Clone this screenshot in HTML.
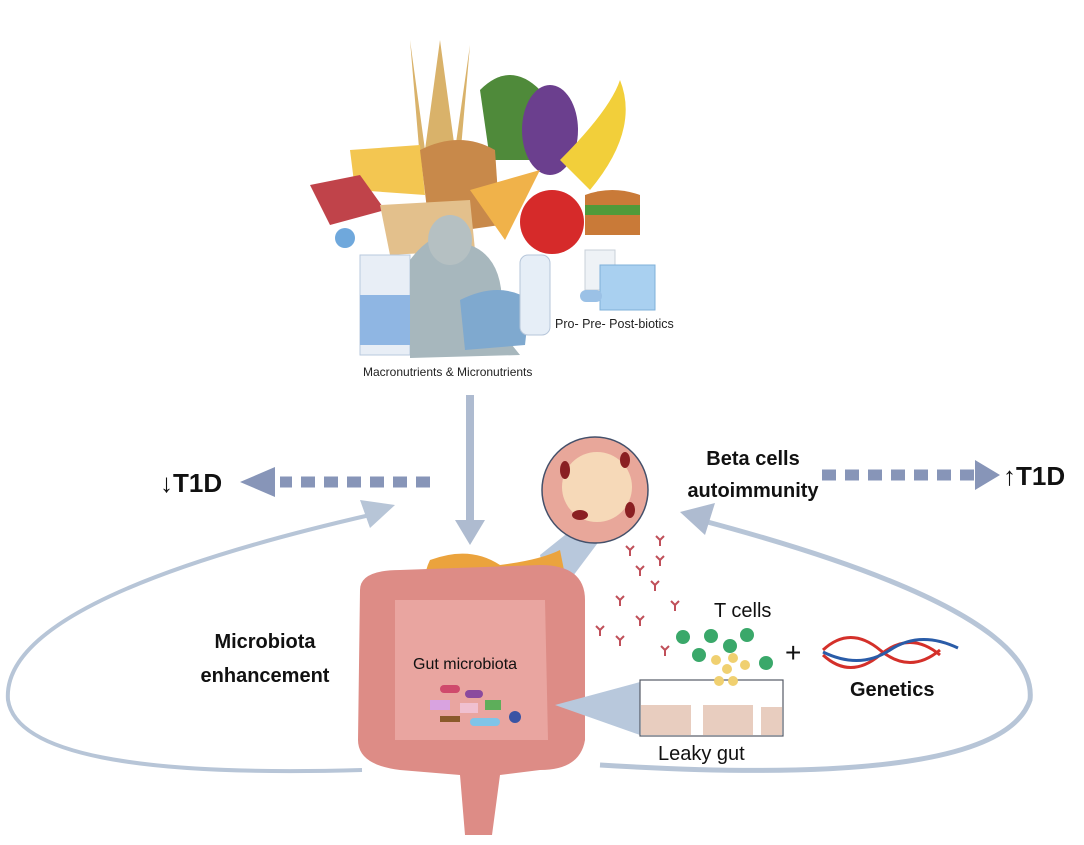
<!DOCTYPE html>
<html><head><meta charset="utf-8"><style>
body{margin:0;background:#fff;}
svg{display:block;}
text{font-family:"Liberation Sans",sans-serif;}
</style></head><body>
<svg width="1084" height="845" viewBox="0 0 1084 845" xmlns="http://www.w3.org/2000/svg">
<rect width="1084" height="845" fill="#fff"/>
<!-- food cluster -->
<g>
<path d="M410 40 L425 150 L440 40 L455 150 L470 45 L460 160 L420 160Z" fill="#d9b26a"/>
<path d="M480 90 Q510 60 540 90 L530 160 L490 160Z" fill="#4f8a3a"/>
<ellipse cx="550" cy="130" rx="28" ry="45" fill="#6b3f8e"/>
<path d="M560 160 Q610 110 620 80 Q640 130 590 190Z" fill="#f2cf3a"/>
<path d="M350 150 L420 145 L425 195 L355 190Z" fill="#f3c651"/>
<path d="M310 185 L360 175 L385 210 L330 225Z" fill="#c0434a"/>
<path d="M420 150 Q460 130 495 150 L500 225 L430 235Z" fill="#c8894a"/>
<path d="M380 205 L470 200 L475 250 L390 255Z" fill="#e3c08c"/>
<path d="M470 190 L540 170 L505 240Z" fill="#f0b24a"/>
<circle cx="552" cy="222" r="32" fill="#d62a2a"/>
<path d="M585 195 Q612 185 640 195 L640 235 L585 235Z" fill="#c97a38"/>
<rect x="585" y="205" width="55" height="10" fill="#4f9a3a"/>
<circle cx="345" cy="238" r="10" fill="#6fa8dc"/>
<rect x="360" y="255" width="50" height="100" fill="#e8eef6" stroke="#b9c9de"/>
<rect x="360" y="295" width="50" height="50" fill="#8fb6e3"/>
<path d="M410 260 Q440 220 470 245 Q510 260 500 330 L520 355 L410 358Z" fill="#a7b7bd"/>
<ellipse cx="450" cy="240" rx="22" ry="25" fill="#b5c0c2"/>
<path d="M460 300 Q500 280 530 300 L525 345 L465 350Z" fill="#7fa9cf"/>
<rect x="520" y="255" width="30" height="80" rx="8" fill="#e6eef7" stroke="#b6c6da"/>
<rect x="585" y="250" width="30" height="40" fill="#eef2f6" stroke="#c8d0d8"/>
<rect x="600" y="265" width="55" height="45" fill="#a9d0f0" stroke="#7fb0d9"/>
<rect x="580" y="290" width="22" height="12" rx="6" fill="#9bc1e6"/>
</g>
<text x="555" y="328" font-size="12.5" fill="#222">Pro- Pre- Post-biotics</text>
<text x="363" y="376" font-size="12" fill="#222">Macronutrients &amp; Micronutrients</text>
<!-- vertical arrow -->
<line x1="470" y1="395" x2="470" y2="522" stroke="#aebbd0" stroke-width="8"/>
<path d="M455 520 L485 520 L470 545Z" fill="#aebbd0"/>
<!-- left dashed -->
<line x1="430" y1="482" x2="280" y2="482" stroke="#8795b8" stroke-width="11" stroke-dasharray="14 9"/>
<path d="M275 467 L275 497 L240 482Z" fill="#8795b8"/>
<text x="160" y="492" font-size="26" font-weight="bold" fill="#111">↓T1D</text>
<!-- right dashed -->
<line x1="822" y1="475" x2="975" y2="475" stroke="#8795b8" stroke-width="11" stroke-dasharray="14 9"/>
<path d="M975 460 L975 490 L1000 475Z" fill="#8795b8"/>
<text x="1003" y="485" font-size="26" font-weight="bold" fill="#111">↑T1D</text>
<text x="753" y="465" font-size="20" font-weight="bold" fill="#111" text-anchor="middle">Beta cells</text>
<text x="753" y="497" font-size="20" font-weight="bold" fill="#111" text-anchor="middle">autoimmunity</text>
<!-- loops -->
<path d="M362 770 Q20 780 8 700 Q0 600 370 515" fill="none" stroke="#b7c5d7" stroke-width="4"/>
<path d="M395 505 L360 500 L370 528Z" fill="#b7c5d7"/>
<path d="M600 765 Q1000 790 1030 700 Q1040 610 700 520" fill="none" stroke="#b7c5d7" stroke-width="5"/>
<path d="M680 512 L715 503 L705 535Z" fill="#aebbd0"/>
<!-- circle islet -->
<path d="M540 555 L565 535 L600 540 L570 580 L545 575Z" fill="#b8c8dc"/>
<circle cx="595" cy="490" r="53" fill="#e8a79a" stroke="#44506a" stroke-width="1.5"/>
<circle cx="597" cy="487" r="35" fill="#f6d9b8"/>
<g fill="#8a1f22"><ellipse cx="565" cy="470" rx="5" ry="9"/><ellipse cx="625" cy="460" rx="5" ry="8"/><ellipse cx="580" cy="515" rx="8" ry="5"/><ellipse cx="630" cy="510" rx="5" ry="8"/></g>
<!-- antibodies -->
<g stroke="#c0505a" stroke-width="2" fill="none">
<path d="M630 550 l0 6 m0 -6 l-4 -4 m4 4 l4 -4"/><path d="M660 540 l0 6 m0 -6 l-4 -4 m4 4 l4 -4"/>
<path d="M640 570 l0 6 m0 -6 l-4 -4 m4 4 l4 -4"/><path d="M655 585 l0 6 m0 -6 l-4 -4 m4 4 l4 -4"/>
<path d="M620 600 l0 6 m0 -6 l-4 -4 m4 4 l4 -4"/><path d="M640 620 l0 6 m0 -6 l-4 -4 m4 4 l4 -4"/>
<path d="M600 630 l0 6 m0 -6 l-4 -4 m4 4 l4 -4"/><path d="M620 640 l0 6 m0 -6 l-4 -4 m4 4 l4 -4"/>
<path d="M665 650 l0 6 m0 -6 l-4 -4 m4 4 l4 -4"/><path d="M675 605 l0 6 m0 -6 l-4 -4 m4 4 l4 -4"/>
<path d="M580 618 l0 6 m0 -6 l-4 -4 m4 4 l4 -4"/><path d="M660 560 l0 6 m0 -6 l-4 -4 m4 4 l4 -4"/>
</g>
<!-- pancreas -->
<path d="M430 560 Q470 545 500 565 Q540 560 560 550 L565 575 Q530 590 500 590 Q470 610 430 600 Q420 580 430 560Z" fill="#eba33d"/>
<!-- intestine -->
<path d="M360 590 Q360 570 400 570 L540 565 Q585 565 585 600 L585 740 Q580 770 540 770 L500 775 L492 835 L465 835 L460 775 L400 770 Q358 765 358 740Z" fill="#dd8c86"/>
<path d="M395 600 L545 600 L548 740 L395 740Z" fill="#e9a5a0"/>
<text x="413" y="669" font-size="16" fill="#111">Gut microbiota</text>
<g>
<rect x="440" y="685" width="20" height="8" rx="4" fill="#cf4a6c"/><rect x="465" y="690" width="18" height="8" rx="4" fill="#8a4a9e"/>
<rect x="430" y="700" width="20" height="10" fill="#d9a3e0"/><rect x="460" y="703" width="18" height="10" fill="#f0c0d0"/>
<rect x="485" y="700" width="16" height="10" fill="#5dae5a"/><circle cx="515" cy="717" r="6" fill="#3954a4"/>
<rect x="470" y="718" width="30" height="8" rx="4" fill="#7fc4e8"/><rect x="440" y="716" width="20" height="6" fill="#8a5a2a"/>
</g>
<!-- leaky gut zoom -->
<path d="M555 705 L640 682 L640 735Z" fill="#b8c8dc"/>
<rect x="640" y="680" width="143" height="56" fill="#fff" stroke="#555a66" stroke-width="1.2"/>
<rect x="641" y="705" width="50" height="30" fill="#e8cdbf"/>
<rect x="703" y="705" width="50" height="30" fill="#e8cdbf"/>
<rect x="761" y="707" width="21" height="28" fill="#e8cdbf"/>
<text x="658" y="760" font-size="20" fill="#111">Leaky gut</text>
<text x="714" y="617" font-size="20" fill="#111">T cells</text>
<g fill="#3aa86a">
<circle cx="683" cy="637" r="7"/><circle cx="711" cy="636" r="7"/><circle cx="747" cy="635" r="7"/>
<circle cx="730" cy="646" r="7"/><circle cx="699" cy="655" r="7"/><circle cx="766" cy="663" r="7"/>
</g>
<g fill="#f0d070">
<circle cx="716" cy="660" r="5"/><circle cx="733" cy="658" r="5"/><circle cx="727" cy="669" r="5"/>
<circle cx="745" cy="665" r="5"/><circle cx="719" cy="681" r="5"/><circle cx="733" cy="681" r="5"/>
</g>
<text x="785" y="662" font-size="28" fill="#111">+</text>
<path d="M823 650 Q850 625 880 650 T940 650 M823 655 Q850 680 880 655 T940 655" fill="none" stroke="#d4302a" stroke-width="3"/>
<path d="M823 652 Q860 670 890 650 T958 648" fill="none" stroke="#2a5ca8" stroke-width="3"/>
<text x="850" y="696" font-size="20" font-weight="bold" fill="#111">Genetics</text>
<text x="265" y="648" font-size="20" font-weight="bold" fill="#111" text-anchor="middle">Microbiota</text>
<text x="265" y="682" font-size="20" font-weight="bold" fill="#111" text-anchor="middle">enhancement</text>
</svg>
</body></html>
